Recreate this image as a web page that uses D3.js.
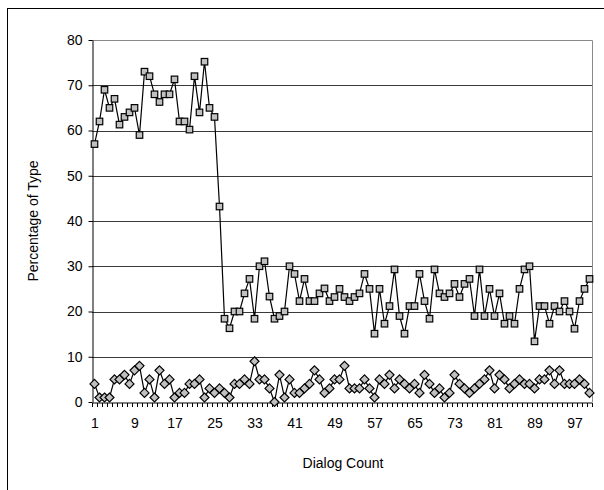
<!DOCTYPE html>
<html>
<head>
<meta charset="utf-8">
<script src="https://cdn.jsdelivr.net/npm/d3@7/dist/d3.min.js"></script>
<style>
  body { margin: 0; background: #fff; }
  svg text { font-family: "Liberation Sans", Arial, sans-serif; fill: #000; }
</style>
</head>
<body>
<svg id="chart" width="604" height="490"></svg>
<script>
// dialog index 1..100
const dialogs = d3.range(1, 101)

// upper series (square markers)
const squareValues = [
    57, 62, 69, 65, 67, 61.3, 63, 64, 65, 59,
    73, 72, 68, 66.3, 68, 68, 71.3, 62, 62, 60.2,
    72, 64, 75.2, 65, 63, 43.2, 18.4, 16.3, 20, 20,
    24, 27.2, 18.4, 30, 31.1, 23.3, 18.4, 19, 20, 30,
    28.3, 22.3, 27.2, 22.3, 22.3, 24, 25.1, 22.3, 23.2, 25,
    23.2, 22.3, 23.2, 24, 28.3, 25, 15.1, 25, 17.3, 21.2,
    29.3, 19, 15.1, 21.2, 21.2, 28.3, 22.3, 18.4, 29.3, 24,
    23.2, 24, 26.1, 23.2, 26.1, 27.2, 19, 29.3, 19, 25,
    19, 24, 17.3, 19, 17.3, 25, 29.3, 30, 13.4, 21.2,
    21.2, 17.3, 21.2, 20, 22.3, 20, 16.2, 22.3, 25, 27.2
]

// lower series (diamond markers)
const diamondValues = [
    4, 1, 1, 1, 5, 5, 6, 4, 7, 8,
    2, 5, 1, 7, 4, 5, 1, 2, 2, 4,
    4, 5, 1, 3, 2, 3, 2, 1, 4, 4,
    5, 4, 9, 5, 5, 3, 0, 6, 1, 5,
    2, 2, 3, 4, 7, 5, 2, 3, 5, 5,
    8, 3, 3, 3, 5, 3, 1, 5, 4, 6,
    3, 5, 4, 3, 4, 2, 6, 4, 2, 3,
    1, 2, 6, 4, 3, 2, 3, 4, 5, 7,
    3, 6, 5, 3, 4, 5, 4, 4, 3, 5,
    5, 7, 4, 7, 4, 4, 4, 5, 4, 2
]

const xTickLabels = [1, 9, 17, 25, 33, 41, 49, 57, 65, 73, 81, 89, 97]
const yTickValues = [0, 10, 20, 30, 40, 50, 60, 70, 80]

const svg = d3.select('#chart')

// outer chart frame
svg.append('rect')
    .attr('x', 7.5).attr('y', 8.5)
    .attr('width', 640).attr('height', 520)
    .attr('fill', 'none').attr('stroke', '#000')

const plot = { left: 92, right: 592, top: 40, bottom: 402 }

const x = d3.scaleLinear().domain([0.5, 100.5]).range([plot.left, plot.right])
const y = d3.scaleLinear().domain([0, 80]).range([plot.bottom, plot.top])

// gridlines
const grid = svg.append('g').attr('class', 'grid')
grid.call(d3.axisLeft(y).tickValues(yTickValues.slice(1, -1)).tickSize(-(plot.right - plot.left)).tickFormat(''))
    .attr('transform', 'translate(' + plot.left + ',0)')
grid.select('.domain').remove()
grid.selectAll('.tick line').attr('stroke', '#3a3a3a').attr('shape-rendering', 'crispEdges')

// plot area border (top + right)
svg.append('path')
    .attr('d', 'M' + plot.left + ',' + (plot.top + 0.5) + 'H' + (plot.right + 0.5) + 'V' + plot.bottom)
    .attr('fill', 'none').attr('stroke', '#8a8a8a')

// y axis
const yAxis = svg.append('g').attr('class', 'y axis')
    .attr('transform', 'translate(' + (plot.left + 0.5) + ',0)')
yAxis.call(d3.axisLeft(y).tickValues(yTickValues).tickSizeInner(4).tickSizeOuter(0).tickPadding(6))
yAxis.select('.domain').attr('stroke', '#000')
yAxis.selectAll('.tick text').attr('font-size', 14)

// x axis: minor ticks between every dialog
const xMinor = svg.append('g').attr('class', 'x axis')
    .attr('transform', 'translate(0,' + (plot.bottom + 0.5) + ')')
xMinor.call(d3.axisBottom(x).tickValues(d3.range(0.5, 101, 1)).tickSize(4).tickSizeOuter(0).tickFormat(''))
xMinor.select('.domain').attr('stroke', '#000')
xMinor.selectAll('.tick line').attr('shape-rendering', 'crispEdges')

// x axis labels
const xLabels = svg.append('g').attr('class', 'x labels')
    .attr('transform', 'translate(0,' + plot.bottom + ')')
xLabels.call(d3.axisBottom(x).tickValues(xTickLabels).tickSize(0).tickPadding(16))
xLabels.select('.domain').remove()
xLabels.selectAll('.tick text').attr('font-size', 14)

// series lines
const line = values => d3.line()
    .x((d, i) => x(dialogs[i]))
    .y(d => y(d))(values)

svg.append('path').attr('d', line(squareValues))
    .attr('fill', 'none').attr('stroke', '#000').attr('stroke-width', 1.2)
svg.append('path').attr('d', line(diamondValues))
    .attr('fill', 'none').attr('stroke', '#000').attr('stroke-width', 1.2)

// markers
const sq = 6.5
svg.append('g').selectAll('rect')
    .data(squareValues)
    .join('rect')
    .attr('x', (d, i) => x(dialogs[i]) - sq / 2)
    .attr('y', d => y(d) - sq / 2)
    .attr('width', sq).attr('height', sq)
    .attr('fill', '#c0c0c0').attr('stroke', '#000').attr('stroke-width', 1.2)

const dm = 4.5
svg.append('g').selectAll('path')
    .data(diamondValues)
    .join('path')
    .attr('d', (d, i) => {
        const cx = x(dialogs[i]), cy = y(d)
        return 'M' + cx + ',' + (cy - dm) + 'L' + (cx + dm) + ',' + cy + 'L' + cx + ',' + (cy + dm) + 'L' + (cx - dm) + ',' + cy + 'Z'
    })
    .attr('fill', '#c0c0c0').attr('stroke', '#000').attr('stroke-width', 1.2)

// axis titles
svg.append('text')
    .text('Dialog Count')
    .attr('font-size', 14)
    .attr('text-anchor', 'middle')
    .attr('x', (plot.left + plot.right) / 2 + 1)
    .attr('y', 468)

svg.append('text')
    .text('Percentage of Type')
    .attr('font-size', 14)
    .attr('text-anchor', 'middle')
    .attr('transform', 'translate(38,' + ((plot.top + plot.bottom) / 2) + ') rotate(-90)')
</script>
</body>
</html>
